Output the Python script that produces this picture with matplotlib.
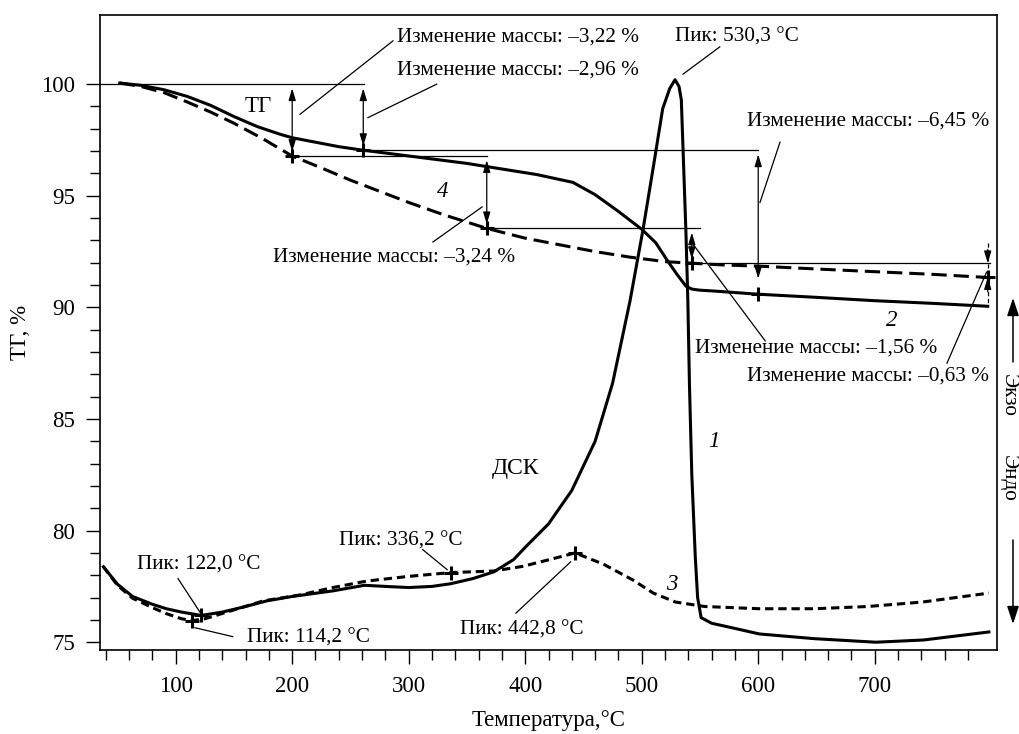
import matplotlib
matplotlib.use("Agg")
import matplotlib.pyplot as plt
from matplotlib.ticker import FixedLocator

plt.rcParams['font.family'] = ['Liberation Serif', 'DejaVu Serif']
plt.rcParams['lines.scale_dashes'] = False

# ТГ, образец 2 (сплошная)
tg2_t = [52, 70, 90, 110, 130, 150, 170, 190, 200, 220, 240, 261, 290, 320, 350, 380,
         410, 441, 460, 480, 500, 512, 522, 530, 538, 543, 550, 560, 600, 650, 700, 750, 797]
tg2_m = [100.05, 99.95, 99.75, 99.45, 99.05, 98.55, 98.1, 97.75, 97.6, 97.4, 97.2, 97.04,
         96.85, 96.65, 96.45, 96.2, 95.95, 95.6, 95.05, 94.3, 93.5, 92.9, 92.1, 91.5, 90.95,
         90.82, 90.77, 90.74, 90.59, 90.45, 90.3, 90.18, 90.05]

# ТГ, образец 4 (штрих)
tg4_t = [52, 70, 90, 110, 130, 150, 175, 200, 225, 250, 275, 300, 330, 367, 400, 430, 460,
         490, 520, 543, 570, 600, 650, 700, 750, 800]
tg4_m = [100.05, 99.9, 99.62, 99.2, 98.75, 98.25, 97.55, 96.78, 96.25, 95.7, 95.2, 94.7,
         94.15, 93.54, 93.1, 92.8, 92.5, 92.25, 92.05, 91.98, 91.9, 91.85, 91.72, 91.6,
         91.48, 91.33]

# ДСК, образец 1 (сплошная)
dsc1_t = [38, 50, 63, 80, 92, 105, 122, 140, 160, 178, 200, 235, 262, 280, 300, 320, 336,
          355, 373, 390, 400, 420, 440, 460, 475, 490, 501, 510, 518, 524, 528.6, 532, 534,
          536, 538, 539.6, 541, 543, 546, 548, 551, 560, 573, 601, 648, 701, 742, 798]
dsc1_v = [78.38, 77.6, 77.05, 76.7, 76.5, 76.35, 76.2, 76.35, 76.6, 76.85, 77.05, 77.3,
          77.55, 77.5, 77.45, 77.5, 77.62, 77.85, 78.15, 78.7, 79.25, 80.3, 81.8, 84.0, 86.6,
          90.3, 93.45, 96.3, 98.9, 99.8, 100.2, 99.9, 99.3, 96.3, 93.3, 90.3, 86.5, 82.5, 78.8,
          77.0, 76.1, 75.85, 75.7, 75.37, 75.16, 75.0, 75.1, 75.46]

# ДСК, образец 3 (пунктир)
dsc3_t = [38, 50, 63, 80, 92, 105, 114.2, 125, 149, 175, 207, 235, 264, 300, 336.2, 373,
          398, 423, 442.8, 467, 492, 510, 529, 554, 601, 648, 694, 741, 798]
dsc3_v = [78.38, 77.55, 76.97, 76.55, 76.28, 76.05, 75.97, 76.05, 76.43, 76.85, 77.12, 77.45,
          77.74, 77.95, 78.12, 78.19, 78.4, 78.73, 79.0, 78.5, 77.8, 77.2, 76.8, 76.6, 76.5,
          76.5, 76.6, 76.8, 77.2]

# отмеченные точки
mark_t = [200, 261, 367, 543, 600, 797, 122.0, 114.2, 336.2, 442.8]
mark_v = [96.78, 97.04, 93.54, 91.98, 90.59, 91.35, 76.2, 75.97, 78.12, 79.0]

fs_txt = 15.3
fs_tick = 16.5

fig = plt.figure(figsize=(10.2, 7.34), dpi=100)
ax = fig.add_axes([0.098, 0.1144, 0.8795, 0.8652])

ax.plot(tg2_t, tg2_m, color='k', lw=2.2)
ax.plot(tg4_t, tg4_m, color='k', lw=2.2, ls=(0, (11, 5)))
ax.plot(dsc1_t, dsc1_v, color='k', lw=2.2)
ax.plot(dsc3_t, dsc3_v, color='k', lw=2.2, ls=(0, (6, 3.5)))
ax.plot(mark_t, mark_v, ls='none', marker='+', ms=10, mew=2.2, color='k')

# горизонтальные линии уровней
thin = dict(color='k', lw=0.9)
ax.plot([35, 262], [100, 100], **thin)
ax.plot([200, 367], [96.78, 96.78], **thin)
ax.plot([261, 600], [97.04, 97.04], **thin)
ax.plot([367, 550], [93.54, 93.54], **thin)
ax.plot([543, 799], [91.98, 91.98], **thin)
ax.plot([797, 797], [92.9, 90.05], color='k', lw=0.9, ls=(0, (3, 2)))

arr = dict(arrowstyle='<|-|>,head_length=0.6,head_width=0.18', color='k', lw=0.9,
           mutation_scale=12, shrinkA=3, shrinkB=3)
for x, y0, y1 in [(200, 100, 96.78), (261, 100, 97.04), (367, 96.78, 93.54),
                  (543, 93.54, 91.98), (600, 97.04, 91.1)]:
    ax.annotate('', xy=(x, y1), xytext=(x, y0), arrowprops=arr)
one = dict(arrowstyle='-|>,head_length=0.6,head_width=0.18', color='k', lw=0.9,
           mutation_scale=12, shrinkA=0, shrinkB=0)
ax.annotate('', xy=(797, 91.98), xytext=(797, 92.6), arrowprops=one)
ax.annotate('', xy=(797, 91.35), xytext=(797, 90.7), arrowprops=one)


# подписи и выноски
def note(txt, x, y, x0, y0, x1, y1, ha='left'):
    ax.text(x, y, txt, fontsize=fs_txt, ha=ha, va='center')
    ax.plot([x0, x1], [y0, y1], color='k', lw=0.9)


note('Изменение массы: –3,22 %', 290, 102.1, 206.7, 98.65, 286.5, 101.94)
note('Изменение массы: –2,96 %', 290, 100.63, 265, 98.5, 324, 100.0)
note('Пик: 530,3 °C', 528.6, 102.1, 535.5, 100.45, 567, 101.67)
note('Изменение массы: –6,45 %', 590, 98.35, 601.5, 94.7, 618.7, 97.4)
note('Изменение массы: –3,24 %', 183.5, 92.25, 320.8, 92.93, 363, 94.5)
note('Изменение массы: –1,56 %', 545.7, 88.2, 543, 92.9, 606, 88.5)
note('Изменение массы: –0,63 %', 590, 86.94, 796, 91.58, 762, 87.5)
note('Пик: 122,0 °C', 67, 78.47, 102, 77.85, 120.8, 76.35)
note('Пик: 114,2 °C', 161, 75.2, 116.5, 75.65, 149, 75.25)
note('Пик: 336,2 °C', 240, 79.55, 312, 79.15, 333, 78.25)
note('Пик: 442,8 °C', 344, 75.54, 392, 76.3, 439, 78.6)

ax.text(170.6, 99.0, 'ТГ', fontsize=fs_tick, ha='center', va='center')
ax.text(392, 82.8, 'ДСК', fontsize=17, ha='center', va='center')
for s, x, y in [('1', 562, 84.0), ('2', 715, 89.4), ('3', 526, 77.6), ('4', 329, 95.2)]:
    ax.text(x, y, s, fontsize=fs_tick, style='italic', ha='center', va='center')

ax.set_xlim(35, 805)
ax.set_ylim(74.65, 103.1)
ax.xaxis.set_major_locator(FixedLocator([100, 200, 300, 400, 500, 600, 700]))
ax.xaxis.set_minor_locator(FixedLocator(list(range(40, 800, 20))))
ax.yaxis.set_major_locator(FixedLocator([75, 80, 85, 90, 95, 100]))
ax.yaxis.set_minor_locator(FixedLocator(list(range(76, 100))))
ax.tick_params(which='major', direction='out', length=10, width=1, labelsize=fs_tick)
ax.tick_params(which='minor', direction='out', length=7, width=1)
ax.tick_params(axis='x', which='major', pad=9)
ax.tick_params(axis='y', which='major', pad=8)
for sp in ax.spines.values():
    sp.set_linewidth(1.2)

ax.set_xlabel('Температура,°C', fontsize=fs_tick)
ax.xaxis.set_label_coords(0.5, -0.095)
ax.set_ylabel('ТГ, %', fontsize=fs_tick)
ax.yaxis.set_label_coords(-0.077, 0.5)

# Экзо / Эндо справа
fig.text(1008 / 1020, 1 - 395 / 734, 'Экзо', rotation=-90, fontsize=fs_txt, ha='center', va='center')
fig.text(1008 / 1020, 1 - 478 / 734, 'Эндо', rotation=-90, fontsize=fs_txt, ha='center', va='center')
big = dict(arrowstyle='-|>,head_length=0.9,head_width=0.3', color='k', lw=1.1,
           mutation_scale=12, shrinkA=0, shrinkB=0)
ax.annotate('', xy=(1013 / 1020, 1 - 298 / 734), xytext=(1013 / 1020, 1 - 362 / 734),
            xycoords='figure fraction', textcoords='figure fraction', arrowprops=big,
            annotation_clip=False)
ax.annotate('', xy=(1013 / 1020, 1 - 624 / 734), xytext=(1013 / 1020, 1 - 540 / 734),
            xycoords='figure fraction', textcoords='figure fraction', arrowprops=big,
            annotation_clip=False)

fig.savefig('out.png', dpi=100)
